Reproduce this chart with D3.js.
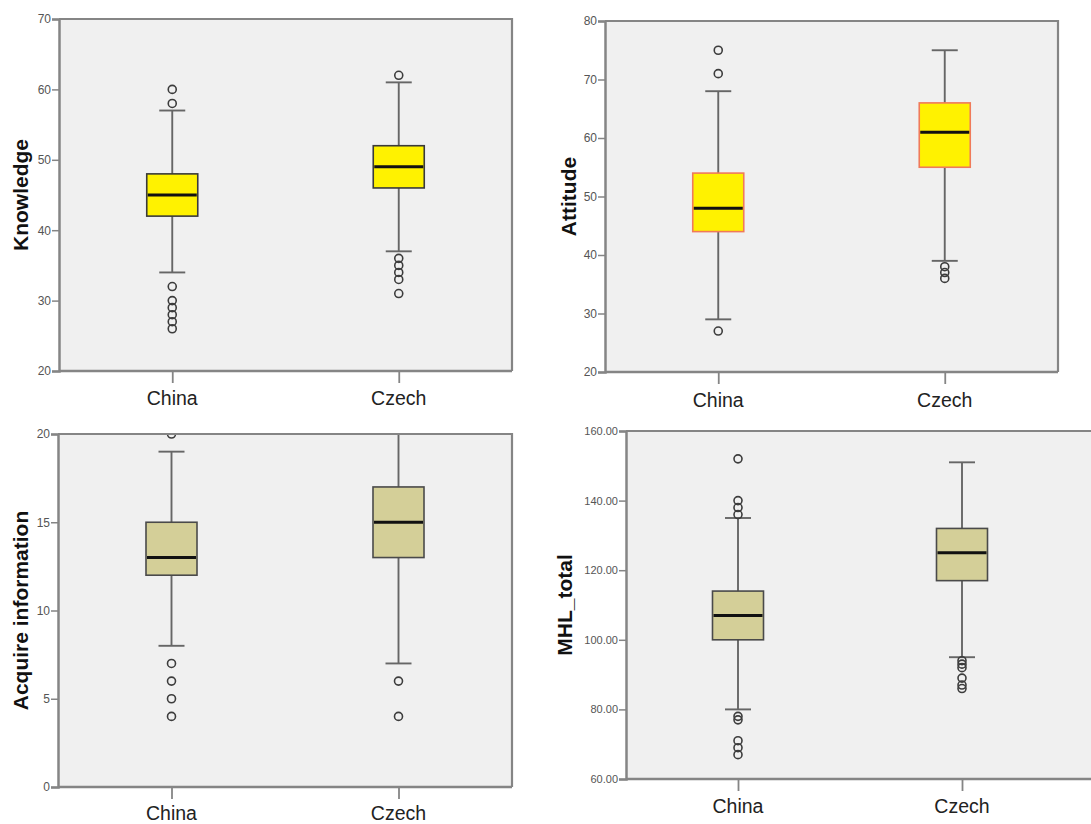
<!DOCTYPE html>
<html>
<head>
<meta charset="utf-8">
<script src="https://cdn.jsdelivr.net/npm/d3@7"></script>
<style>
  html, body { margin: 0; padding: 0; background: #ffffff; }
  svg { display: block; }
</style>
</head>
<body>
<svg id="chart" width="1091" height="824"></svg>
<script>
// ---------- data ----------
const categories = ["China", "Czech"];

// box stats: [lowerWhisker, Q1, median, Q3, upperWhisker]
const knowledgeStats = [[34, 42, 45, 48, 57], [37, 46, 49, 52, 61]];
const knowledgeOutliers = [[60, 58, 32, 30, 29, 28, 27, 26], [62, 36, 35, 34, 33, 31]];
const knowledgeTicks = [20, 30, 40, 50, 60, 70];

const attitudeStats = [[29, 44, 48, 54, 68], [39, 55, 61, 66, 75]];
const attitudeOutliers = [[75, 71, 27], [38, 37, 36]];
const attitudeTicks = [20, 30, 40, 50, 60, 70, 80];

const acquireStats = [[8, 12, 13, 15, 19], [7, 13, 15, 17, 20]];
const acquireOutliers = [[20, 7, 6, 5, 4], [6, 4]];
const acquireTicks = [0, 5, 10, 15, 20];

const mhlStats = [[80, 100, 107, 114, 135], [95, 117, 125, 132, 151]];
const mhlOutliers = [[152, 140, 138, 136, 78, 77, 71, 69, 67], [94, 93, 92, 89, 87, 86]];
const mhlTicks = [60, 80, 100, 120, 140, 160];

// ---------- layout ----------
const panels = [
  { title: "Knowledge", stats: knowledgeStats, outliers: knowledgeOutliers, ticks: knowledgeTicks,
    domain: [20, 70], fmt: d3.format("d"), left: 59, top: 19, right: 512, bottom: 371, scaleRight: 512,
    fill: "#fff200", stroke: "#3a3a3a", titleX: 21, labelY: 405, tickFont: 12 },
  { title: "Attitude", stats: attitudeStats, outliers: attitudeOutliers, ticks: attitudeTicks,
    domain: [20, 80], fmt: d3.format("d"), left: 605, top: 21, right: 1058, bottom: 372, scaleRight: 1058,
    fill: "#fff200", stroke: "#f07a5a", titleX: 569, labelY: 407, tickFont: 12 },
  { title: "Acquire information", stats: acquireStats, outliers: acquireOutliers, ticks: acquireTicks,
    domain: [0, 20], fmt: d3.format("d"), left: 58, top: 434, right: 512, bottom: 787, scaleRight: 512,
    fill: "#d4cf98", stroke: "#4a4a4a", titleX: 21, labelY: 820, tickFont: 12 },
  { title: "MHL_total", stats: mhlStats, outliers: mhlOutliers, ticks: mhlTicks,
    domain: [60, 160], fmt: d3.format(".2f"), left: 626, top: 431, right: 1110, bottom: 779, scaleRight: 1074,
    fill: "#d4cf98", stroke: "#4a4a4a", titleX: 565, labelY: 813, tickFont: 11 }
];

const svg = d3.select("#chart");
const font = "Arial, 'Liberation Sans', sans-serif";
const boxW = 51, capW = 26;

panels.forEach((p, pi) => {
  const g = svg.append("g");
  const y = d3.scaleLinear().domain(p.domain).range([p.bottom, p.top]);
  const x = d3.scalePoint().domain(categories).range([p.left, p.scaleRight]).padding(0.5);

  const clipId = "clip" + pi;
  svg.append("clipPath").attr("id", clipId).append("rect")
    .attr("x", p.left).attr("y", p.top).attr("width", p.right - p.left).attr("height", p.bottom - p.top);

  // plot background
  g.append("rect").attr("x", p.left).attr("y", p.top)
    .attr("width", p.right - p.left).attr("height", p.bottom - p.top)
    .attr("fill", "#f0f0f0");

  const plot = g.append("g").attr("clip-path", `url(#${clipId})`);

  categories.forEach((c, i) => {
    const [lw, q1, med, q3, uw] = p.stats[i];
    const cx = x(c);
    // whisker line
    plot.append("line").attr("x1", cx).attr("x2", cx).attr("y1", y(lw)).attr("y2", y(uw))
      .attr("stroke", "#666").attr("stroke-width", 1.9);
    // caps
    [lw, uw].forEach(v => {
      plot.append("line").attr("x1", cx - capW / 2).attr("x2", cx + capW / 2)
        .attr("y1", y(v)).attr("y2", y(v))
        .attr("stroke", "#666").attr("stroke-width", 1.9);
    });
    // box
    plot.append("rect").attr("x", cx - boxW / 2).attr("y", y(q3))
      .attr("width", boxW).attr("height", y(q1) - y(q3))
      .attr("fill", p.fill).attr("stroke", p.stroke).attr("stroke-width", 1.6);
    // median
    plot.append("line").attr("x1", cx - boxW / 2 + 1).attr("x2", cx + boxW / 2 - 1)
      .attr("y1", y(med)).attr("y2", y(med))
      .attr("stroke", "#111").attr("stroke-width", 3);
    // outliers
    p.outliers[i].forEach(v => {
      plot.append("circle").attr("cx", cx).attr("cy", y(v)).attr("r", 4)
        .attr("fill", "none").attr("stroke", "#3c3c3c").attr("stroke-width", 1.6);
    });
  });

  // frame (top & right)
  g.append("path")
    .attr("d", `M${p.left},${p.top}H${p.right}V${p.bottom}`)
    .attr("fill", "none").attr("stroke", "#858585").attr("stroke-width", 2.2);

  // y axis
  const yAxis = d3.axisLeft(y).tickValues(p.ticks).tickFormat(p.fmt).tickSizeOuter(0).tickSize(7).tickPadding(1);
  const ya = g.append("g").attr("transform", `translate(${p.left},0)`).call(yAxis);
  ya.select(".domain").attr("stroke", "#858585").attr("stroke-width", 2.5);
  ya.selectAll(".tick line").attr("stroke", "#858585").attr("stroke-width", 1.5);
  ya.selectAll(".tick text").attr("fill", "#555").attr("font-family", font)
    .attr("font-size", p.tickFont);

  // x axis
  const xAxis = d3.axisBottom(x).tickSizeOuter(0).tickSize(12).tickFormat(() => "");
  const xa = g.append("g").attr("transform", `translate(0,${p.bottom})`).call(xAxis);
  xa.select(".domain").attr("d", `M${p.left},0H${p.right}`).attr("stroke", "#858585").attr("stroke-width", 2.5);
  xa.selectAll(".tick line").attr("stroke", "#858585").attr("stroke-width", 1.8);

  // category labels
  categories.forEach(c => {
    g.append("text").attr("x", x(c)).attr("y", p.labelY)
      .attr("text-anchor", "middle").attr("font-family", font)
      .attr("font-size", 19.5).attr("fill", "#222").text(c);
  });

  // y title
  const cy = (p.top + p.bottom) / 2;
  g.append("text")
    .attr("transform", `translate(${p.titleX + 7},${cy}) rotate(-90)`)
    .attr("text-anchor", "middle").attr("font-family", font)
    .attr("font-weight", "bold").attr("font-size", 21).attr("fill", "#111")
    .text(p.title);
});
</script>
</body>
</html>
